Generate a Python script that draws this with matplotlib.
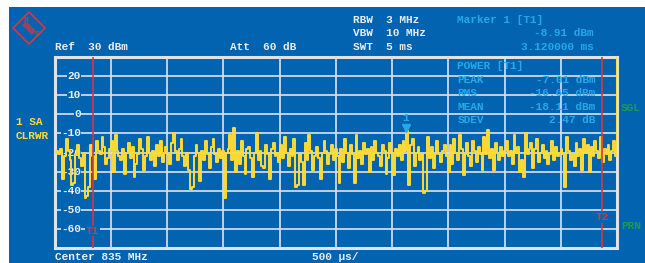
import numpy as np
import matplotlib
matplotlib.use("Agg")
import matplotlib.pyplot as plt
from matplotlib.patches import Polygon, Rectangle

# spectrum analyser zero-span screen (R&S style)

# trace, dBm, one row = one division (500 us)
trace_dbm = [
    -20, -19, -21, -18, -34, -22, -13, -19, -24, -37, -36, -21, -16, -23, -27, -20, -44, -43, -38, -16,
    -22, -34, -14, -19, -21, -12, -17, -26, -23, -18,
    -14, -30, -11, -19, -22, -24, -18, -31, -20, -15, -23, -17, -33, -26, -21, -13, -18, -29, -22, -12,
    -20, -24, -19, -27, -16, -22, -14, -25, -20, -17,
    -21, -26, -15, -10, -19, -24, -18, -13, -22, -27, -20, -29, -39, -38, -22, -16, -20, -35, -19, -24,
    -14, -21, -28, -17, -13, -21, -25, -18, -23, -19,
    -44, -20, -18, -11, -24, -7, -30, -19, -26, -14, -22, -31, -18, -17, -23, -33, -20, -10, -24, -19,
    -27, -28, -16, -21, -34, -18, -15, -22, -20, -25,
    -16, -23, -12, -20, -27, -18, -22, -13, -38, -37, -21, -25, -37, -15, -24, -11, -19, -29, -22, -17,
    -23, -34, -20, -14, -19, -26, -21, -16, -24, -18,
    -22, -36, -18, -25, -13, -20, -28, -16, -21, -36, -11, -23, -19, -26, -15, -21, -18, -30, -17, -24,
    -14, -20, -22, -27, -16, -19, -31, -23, -15, -20,
    -32, -18, -22, -16, -24, -14, -19, -9, -37, -16, -13, -27, -20, -17, -24, -21, -41, -40, -12, -23,
    -17, -28, -21, -14, -21, -25, -19, -16, -22, -30,
    -16, -26, -13, -20, -24, -11, -18, -32, -21, -15, -22, -27, -14, -19, -25, -17, -21, -29, -12, -21,
    -8, -23, -18, -29, -15, -20, -24, -17, -22, -19,
    -14, -22, -19, -26, -11, -20, -17, -30, -24, -33, -10, -21, -18, -15, -28, -18, -13, -25, -20, -16,
    -23, -19, -26, -21, -14, -24, -17, -22, -20, -18,
    -21, -38, -12, -19, -24, -21, -27, -15, -22, -18, -29, -13, -20, -16, -30, -17, -22, -14, -19, -23,
    -12, -25, -18, -21, -16, -24, -19, -14, -22, 30,
]
sweep_ms = 5.0
ref_level = 30
y_labels = [20, 10, 0, -10, -20, -30, -40, -50, -60]
t1_ms = 0.34
t2_ms = 4.87
marker1_ms = 3.12
marker1_dbm = -8.91

power_names = ["PEAK", "RMS", "MEAN", "SDEV"]
power_values = ["-7.01 dBm", "-16.65 dBm", "-18.11 dBm", "2.47 dB"]

W, H = 645, 263
BLUE = "#0263b0"
WHITE = "#e9eef5"
CYAN = "#25a9e6"
YEL = "#ffdc35"
RED = "#d9363e"
GREEN = "#1f9a4c"
FONT = "Liberation Mono"

fig = plt.figure(figsize=(W / 100, H / 100), dpi=100)
fig.patch.set_facecolor("white")

def fx(x):
    return x / W

def fy(y):
    return 1 - y / H

# blue screen
fig.patches.append(Rectangle((fx(9), 0), 1 - fx(9), fy(7), transform=fig.transFigure,
                             facecolor=BLUE, edgecolor="none", zorder=-5))

def ftext(x, y, s, color=WHITE, ha="left", size=8):
    fig.text(fx(x), fy(y), s, color=color, ha=ha, va="center", fontsize=size,
             family=FONT, fontweight="bold")

# header texts
ftext(55, 47, "Ref  30 dBm")
ftext(230, 47, "Att  60 dB")
ftext(353, 20, "RBW  3 MHz")
ftext(353, 33, "VBW  10 MHz")
ftext(353, 47, "SWT  5 ms")
ftext(457, 20, "Marker 1 [T1]", color=CYAN)
ftext(594, 33, "%.2f dBm" % marker1_dbm, color=CYAN, ha="right")
ftext(594, 47, "%.6f ms" % marker1_ms, color=CYAN, ha="right")
ftext(16, 122, "1 SA", color=YEL)
ftext(16, 136, "CLRWR", color=YEL)
ftext(621, 108, "SGL", color=GREEN)
ftext(621, 226, "PRN", color=GREEN)
ftext(55, 257, "Center 835 MHz")
ftext(312, 257, "500 \u00b5s/")

# logo
cx, cy, r = 29, 28, 16
fig.patches.append(Polygon([(fx(cx - r), fy(cy)), (fx(cx), fy(cy - r)), (fx(cx + r), fy(cy)),
                            (fx(cx), fy(cy + r))], closed=True, transform=fig.transFigure,
                           facecolor="none", edgecolor=RED, lw=1.2, zorder=2))
fig.patches.append(Polygon([(fx(cx - 7), fy(cy - 3)), (fx(cx - 3), fy(cy - 7)), (fx(cx + 7), fy(cy + 3)),
                            (fx(cx + 3), fy(cy + 7))], closed=True, transform=fig.transFigure,
                           facecolor=RED, edgecolor="none", alpha=0.7, zorder=2))
ftext(23, 21, "R", color=RED, size=6)
ftext(35, 34, "S", color=RED, size=6)

# plot area
ax = fig.add_axes([fx(54.5), fy(248), fx(617) - fx(54.5), fy(57) - fy(248)])
ax.set_facecolor(BLUE)
ax.set_xlim(0, sweep_ms)
ax.set_ylim(ref_level - 100, ref_level)
ax.set_xticks([])
ax.set_yticks([])
for sp in ax.spines.values():
    sp.set_color("#dde3ea")
    sp.set_linewidth(2.2)

for k in range(1, 10):
    ax.axvline(k * sweep_ms / 10, color="#dbe3ee", lw=1.2, zorder=1)
for v in y_labels:
    ax.axhline(v, color="#dbe3ee", lw=1.2, zorder=1)
    ax.text(0.235, v, str(v), color=WHITE, ha="right", va="center", fontsize=8,
            family=FONT, fontweight="bold", zorder=2,
            bbox=dict(facecolor=BLUE, edgecolor="none", pad=0.3))

t = np.linspace(0, sweep_ms, len(trace_dbm))
ax.step(t, trace_dbm, where="post", color=YEL, lw=1.4, zorder=3)

# power measurement block
ax.text(3.58, 25.5, "POWER [T1]", color=CYAN, fontsize=8, family=FONT, fontweight="bold",
        va="center", zorder=4)
for i, (n, val) in enumerate(zip(power_names, power_values)):
    yv = 18 - i * 7
    ax.text(3.58, yv, n, color=CYAN, fontsize=8, family=FONT, fontweight="bold", va="center", zorder=4)
    ax.text(4.81, yv, val, color=CYAN, fontsize=8, family=FONT, fontweight="bold",
            va="center", ha="right", zorder=4)

# markers
for tm, lab, yl in [(t1_ms, "T1", -61), (t2_ms, "T2", -54)]:
    ax.axvline(tm, color=RED, lw=1.2, zorder=5)
    ax.text(tm, yl, lab, color=RED, fontsize=8, family=FONT, fontweight="bold",
            ha="center", va="center", zorder=6,
            bbox=dict(facecolor=BLUE, edgecolor="none", pad=0.5))

ax.plot([marker1_ms], [marker1_dbm + 1.8], marker="v", color=CYAN, ms=6, zorder=6)
ax.text(marker1_ms, marker1_dbm + 7, "1", color=CYAN, fontsize=8, family=FONT,
        fontweight="bold", ha="center", va="center", zorder=6)

fig.savefig("out.png", dpi=100, facecolor=fig.get_facecolor())
